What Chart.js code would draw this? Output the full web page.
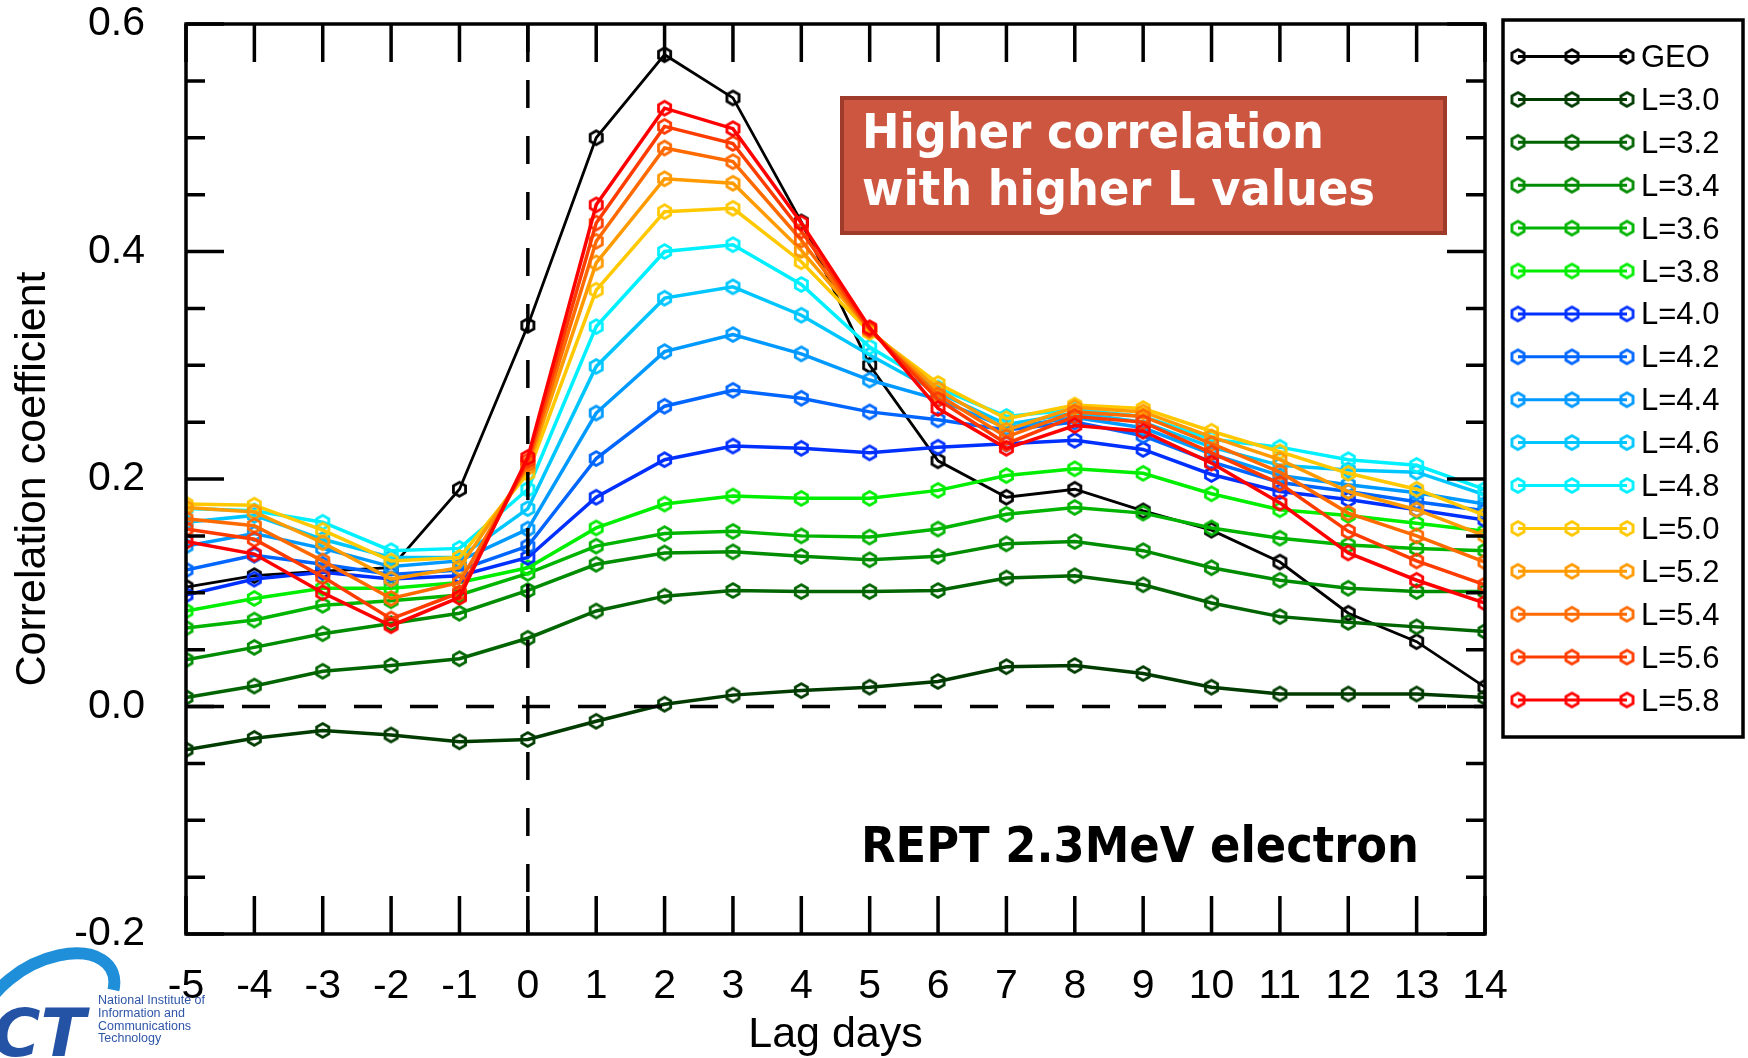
<!DOCTYPE html>
<html>
<head>
<meta charset="utf-8">
<script src="https://cdn.jsdelivr.net/npm/chart.js@4.4.1/dist/chart.umd.min.js"></script>
<style>
  html, body { margin: 0; padding: 0; background: #fff; }
  #wrap { width: 1748px; height: 1058px; position: relative; }
</style>
</head>
<body>
<div id="wrap"><canvas id="corrChart"></canvas></div>
<script>
const lagDays = [-5, -4, -3, -2, -1, 0, 1, 2, 3, 4, 5, 6, 7, 8, 9, 10, 11, 12, 13, 14];

const seriesNames = ['GEO', 'L=3.0', 'L=3.2', 'L=3.4', 'L=3.6', 'L=3.8', 'L=4.0', 'L=4.2',
  'L=4.4', 'L=4.6', 'L=4.8', 'L=5.0', 'L=5.2', 'L=5.4', 'L=5.6', 'L=5.8'];

const seriesColors = ['#000000', '#003b00', '#006400', '#008c00', '#00b400', '#00ee00',
  '#0030ff', '#0066ff', '#0099ff', '#00c6ff', '#00f0ff',
  '#ffc800', '#ff9a00', '#ff6a00', '#ff3c00', '#ff0000'];

const geo = [0.105, 0.115, 0.119, 0.122, 0.191, 0.335, 0.500, 0.573, 0.535, 0.426, 0.300, 0.216, 0.184, 0.191, 0.172, 0.155, 0.127, 0.082, 0.057, 0.017];
const l30 = [-0.038, -0.028, -0.021, -0.025, -0.031, -0.029, -0.013, 0.002, 0.010, 0.014, 0.017, 0.022, 0.035, 0.036, 0.029, 0.017, 0.011, 0.011, 0.011, 0.008];
const l32 = [0.008, 0.018, 0.031, 0.036, 0.042, 0.060, 0.084, 0.097, 0.102, 0.101, 0.101, 0.102, 0.113, 0.115, 0.107, 0.091, 0.079, 0.074, 0.070, 0.066];
const l34 = [0.041, 0.052, 0.064, 0.073, 0.082, 0.102, 0.125, 0.135, 0.136, 0.132, 0.129, 0.132, 0.143, 0.145, 0.137, 0.122, 0.111, 0.104, 0.101, 0.101];
const l36 = [0.069, 0.076, 0.089, 0.093, 0.098, 0.117, 0.141, 0.152, 0.154, 0.150, 0.149, 0.156, 0.169, 0.175, 0.170, 0.157, 0.148, 0.142, 0.139, 0.137];
const l38 = [0.084, 0.095, 0.104, 0.104, 0.109, 0.122, 0.157, 0.178, 0.185, 0.183, 0.183, 0.190, 0.203, 0.209, 0.205, 0.187, 0.173, 0.168, 0.161, 0.154];
const l40 = [0.098, 0.112, 0.118, 0.112, 0.115, 0.131, 0.184, 0.217, 0.229, 0.227, 0.223, 0.228, 0.231, 0.234, 0.226, 0.204, 0.189, 0.182, 0.173, 0.164];
const l42 = [0.120, 0.133, 0.125, 0.116, 0.120, 0.141, 0.218, 0.264, 0.278, 0.271, 0.259, 0.252, 0.243, 0.250, 0.238, 0.215, 0.197, 0.189, 0.180, 0.172];
const l44 = [0.141, 0.152, 0.139, 0.123, 0.128, 0.156, 0.258, 0.312, 0.327, 0.310, 0.287, 0.270, 0.245, 0.254, 0.245, 0.222, 0.203, 0.195, 0.188, 0.178];
const l46 = [0.162, 0.168, 0.147, 0.131, 0.131, 0.174, 0.299, 0.359, 0.369, 0.344, 0.309, 0.276, 0.248, 0.258, 0.250, 0.228, 0.212, 0.208, 0.206, 0.186];
const l48 = [0.174, 0.172, 0.162, 0.137, 0.139, 0.191, 0.334, 0.400, 0.406, 0.371, 0.316, 0.280, 0.255, 0.261, 0.255, 0.235, 0.228, 0.217, 0.212, 0.191];
const l50 = [0.178, 0.177, 0.155, 0.128, 0.131, 0.205, 0.366, 0.435, 0.438, 0.391, 0.329, 0.284, 0.253, 0.265, 0.262, 0.242, 0.224, 0.205, 0.191, 0.168];
const l52 = [0.175, 0.171, 0.144, 0.112, 0.122, 0.210, 0.390, 0.464, 0.460, 0.401, 0.331, 0.279, 0.243, 0.263, 0.259, 0.237, 0.217, 0.189, 0.173, 0.150];
const l54 = [0.165, 0.159, 0.128, 0.095, 0.109, 0.213, 0.409, 0.491, 0.479, 0.410, 0.331, 0.274, 0.237, 0.259, 0.255, 0.231, 0.206, 0.170, 0.150, 0.127];
const l56 = [0.156, 0.147, 0.114, 0.077, 0.100, 0.216, 0.425, 0.510, 0.495, 0.418, 0.332, 0.270, 0.231, 0.255, 0.250, 0.223, 0.196, 0.154, 0.128, 0.107];
const l58 = [0.145, 0.134, 0.100, 0.071, 0.096, 0.219, 0.441, 0.526, 0.508, 0.425, 0.333, 0.262, 0.227, 0.247, 0.242, 0.214, 0.179, 0.135, 0.111, 0.091];

const seriesValues = [geo, l30, l32, l34, l36, l38, l40, l42, l44, l46, l48, l50, l52, l54, l56, l58];

const fontFamily = '"Liberation Sans", Arial, sans-serif';

// open hexagon marker, drawn once per colour
function hexMarker(color, r, lw) {
  const size = Math.ceil(2 * r + lw + 2);
  const c = document.createElement('canvas');
  c.width = size;
  c.height = size;
  const g = c.getContext('2d');
  g.strokeStyle = color;
  g.lineWidth = lw;
  g.beginPath();
  for (let k = 0; k < 6; k++) {
    const a = Math.PI / 2 + k * Math.PI / 3;
    const px = size / 2 + r * Math.cos(a);
    const py = size / 2 + r * Math.sin(a);
    if (k === 0) g.moveTo(px, py); else g.lineTo(px, py);
  }
  g.closePath();
  g.stroke();
  return c;
}

const markers = seriesColors.map(c => hexMarker(c, 7, 2.8));

const framePlugin = {
  id: 'frame',
  afterDatasetsDraw(chart) {
    const { ctx, chartArea: a, scales: { x, y } } = chart;
    ctx.save();
    ctx.strokeStyle = '#000';
    ctx.lineWidth = 3.5;
    ctx.setLineDash([28, 28]);
    ctx.beginPath();
    const y0 = y.getPixelForValue(0);
    const x0 = x.getPixelForValue(0);
    ctx.moveTo(a.left, y0);
    ctx.lineTo(a.right, y0);
    ctx.moveTo(x0, a.top);
    ctx.lineTo(x0, a.bottom);
    ctx.stroke();
    ctx.setLineDash([]);

    ctx.beginPath();
    lagDays.forEach(d => {
      const px = x.getPixelForValue(d);
      ctx.moveTo(px, a.top);
      ctx.lineTo(px, a.top + 38);
      ctx.moveTo(px, a.bottom);
      ctx.lineTo(px, a.bottom - 38);
    });
    for (let k = -4; k <= 12; k++) {
      const py = y.getPixelForValue(k * 0.05);
      const len = k % 4 === 0 ? 38 : 19;
      ctx.moveTo(a.left, py);
      ctx.lineTo(a.left + len, py);
      ctx.moveTo(a.right, py);
      ctx.lineTo(a.right - len, py);
    }
    ctx.stroke();
    ctx.strokeRect(a.left, a.top, a.width, a.height);
    ctx.restore();
  },
  afterDraw(chart) {
    const ctx = chart.ctx;
    ctx.save();

    // legend box
    ctx.strokeStyle = '#000';
    ctx.lineWidth = 3.5;
    ctx.strokeRect(1503, 20, 240, 717);
    ctx.font = '31px ' + fontFamily;
    ctx.textBaseline = 'middle';
    ctx.textAlign = 'left';
    seriesNames.forEach((name, i) => {
      const ly = 56.5 + i * 42.9;
      ctx.strokeStyle = seriesColors[i];
      ctx.lineWidth = 3;
      ctx.beginPath();
      ctx.moveTo(1518, ly);
      ctx.lineTo(1627, ly);
      ctx.stroke();
      [1518, 1572, 1627].forEach(mx => {
        const m = markers[i];
        ctx.drawImage(m, mx - m.width / 2, ly - m.height / 2);
      });
      ctx.fillStyle = '#000';
      ctx.fillText(name, 1641, ly + 2);
    });

    // annotation box
    ctx.fillStyle = '#cd5640';
    ctx.fillRect(840, 96, 607, 139);
    ctx.strokeStyle = '#9e3b2b';
    ctx.lineWidth = 4;
    ctx.strokeRect(842, 98, 603, 135);
    ctx.fillStyle = '#fff';
    ctx.font = 'bold 48px "DejaVu Sans", Verdana, sans-serif';
    ctx.textBaseline = 'alphabetic';
    const w2 = ctx.measureText('with higher L values').width;
    ctx.save();
    ctx.translate(862, 0);
    ctx.scale(513 / w2, 1);
    ctx.fillText('Higher correlation', 0, 148);
    ctx.fillText('with higher L values', 0, 205);
    ctx.restore();

    // instrument label
    ctx.fillStyle = '#000';
    ctx.font = 'bold 50px "DejaVu Sans", Verdana, sans-serif';
    const wr = ctx.measureText('REPT 2.3MeV electron').width;
    ctx.save();
    ctx.translate(861, 0);
    ctx.scale(558 / wr, 1);
    ctx.fillText('REPT 2.3MeV electron', 0, 862);
    ctx.restore();

    // logo, bottom left
    ctx.strokeStyle = '#1e8fd8';
    ctx.lineWidth = 12;
    ctx.beginPath();
    ctx.ellipse(48, 1004, 72, 42, -0.5, Math.PI * 0.9, Math.PI * 2.15);
    ctx.stroke();
    ctx.fillStyle = '#2452a4';
    ctx.font = 'italic bold 66px "DejaVu Sans", sans-serif';
    ctx.fillText('CT', -8, 1056);
    ctx.fillStyle = '#2f55a8';
    ctx.font = '12.5px ' + fontFamily;
    ['National Institute of', 'Information and', 'Communications', 'Technology'].forEach((t, i) => {
      ctx.fillText(t, 98, 1004 + i * 12.8);
    });
    ctx.restore();
  }
};

new Chart(document.getElementById('corrChart'), {
  type: 'line',
  data: {
    datasets: seriesValues.map((vals, i) => ({
      label: seriesNames[i],
      data: vals.map((v, j) => ({ x: lagDays[j], y: v })),
      borderColor: seriesColors[i],
      backgroundColor: seriesColors[i],
      borderWidth: i === 0 ? 2.8 : 3.5,
      pointStyle: markers[i],
      pointRadius: 7,
      pointHoverRadius: 7,
      tension: 0,
      fill: false,
      order: seriesNames.length - i,
    })),
  },
  options: {
    responsive: true,
    maintainAspectRatio: false,
    animation: false,
    events: [],
    layout: { padding: { left: 0, top: 24, right: 263, bottom: 0 } },
    plugins: {
      legend: { display: false },
      tooltip: { enabled: false },
    },
    scales: {
      x: {
        type: 'linear',
        min: -5,
        max: 14,
        afterFit: s => { s.height = 124; s.paddingLeft = 0; s.paddingRight = 0; },
        grid: { display: false, drawTicks: false },
        border: { display: false },
        ticks: {
          stepSize: 1,
          autoSkip: false,
          maxRotation: 0,
          color: '#000',
          padding: 28,
          font: { family: fontFamily, size: 41 },
        },
        title: {
          display: true,
          text: 'Lag days',
          color: '#000',
          font: { family: fontFamily, size: 43, lineHeight: 1 },
          padding: { top: 0, bottom: 1.5 },
        },
      },
      y: {
        min: -0.2,
        max: 0.6,
        afterFit: s => { s.width = 186; s.paddingTop = 0; s.paddingBottom = 0; },
        grid: { display: false, drawTicks: false },
        border: { display: false },
        ticks: {
          stepSize: 0.2,
          color: '#000',
          padding: 41,
          font: { family: fontFamily, size: 41 },
          callback: v => (Math.abs(v) < 1e-9 ? '0.0' : v.toFixed(1)),
        },
        title: {
          display: true,
          text: 'Correlation coefficient',
          color: '#000',
          font: { family: fontFamily, size: 43, lineHeight: 1 },
          padding: { top: 11.5, bottom: 0 },
        },
      },
    },
  },
  plugins: [framePlugin],
});
</script>
</body>
</html>
